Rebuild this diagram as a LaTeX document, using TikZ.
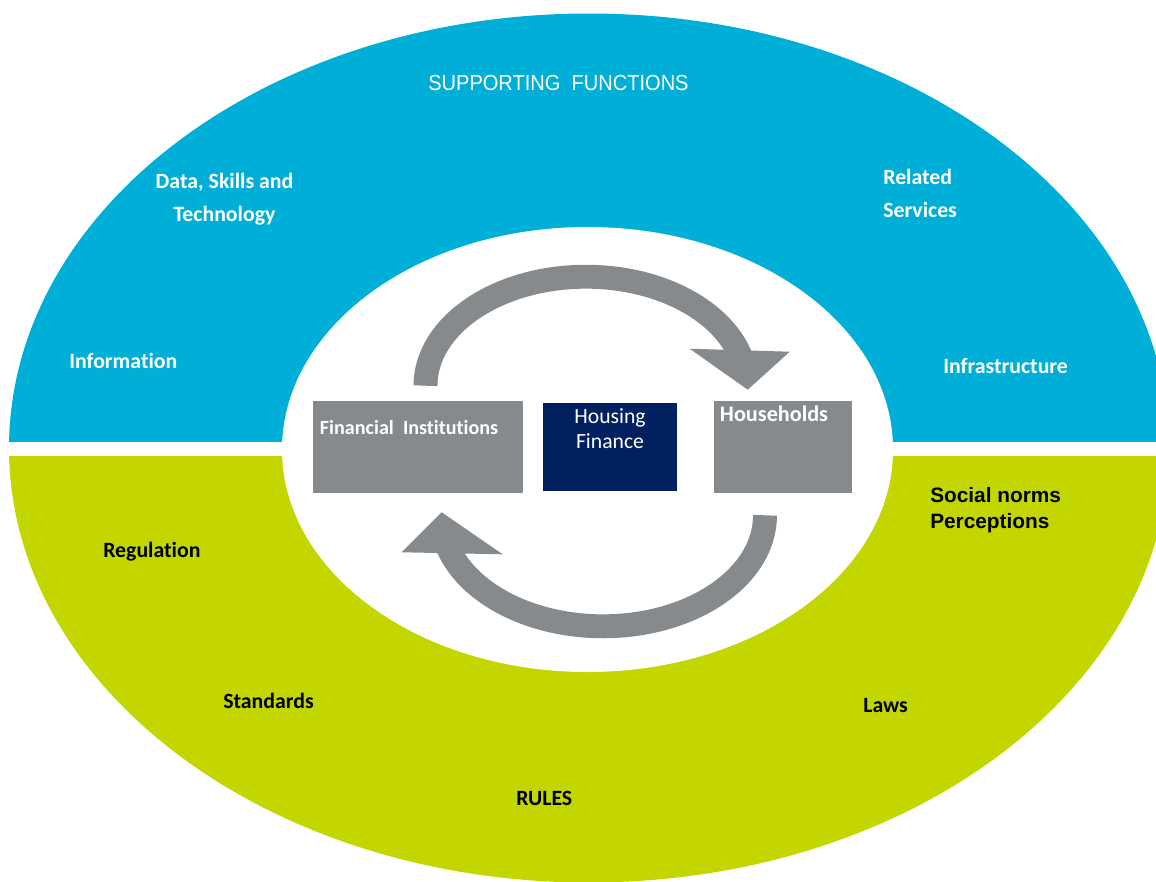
\documentclass[tikz,border=0pt]{standalone}
\usepackage{fontspec}
\setmainfont{Carlito}[Ligatures=NoCommon]
\newfontfamily\arialfont{Liberation Sans}
\newfontfamily\narrowfont[FakeStretch=0.92]{Liberation Sans}
\usetikzlibrary{calc,positioning}
\definecolor{supblue}{RGB}{0,175,215}
\definecolor{rulegreen}{RGB}{196,214,0}
\definecolor{flowgray}{RGB}{135,138,140}
\definecolor{hfnavy}{RGB}{0,32,96}

\begin{document}
\begin{tikzpicture}[x=0.025cm,y=-0.025cm,
    boxstyle/.style={rectangle,fill=flowgray,inner sep=0pt,minimum width=5.25cm,minimum height=2.3cm},
    boxtext/.style={inner sep=0pt,text=white,font=\bfseries\fontsize{14.3}{17}\selectfont},
    labelstyle/.style={inner sep=0pt,anchor=base west,font=\bfseries\fontsize{15.5}{23.4}\selectfont},
    flowstyle/.style={draw=flowgray,line width=17pt}]
    \useasboundingbox (0,0) rectangle (1156,881);
    % outer ring, cut in two halves
    \begin{scope}
        \clip (0,0) rectangle (1156,441);
        \fill[supblue] (589,448) ellipse[x radius=580,y radius=434.5];
    \end{scope}
    \begin{scope}
        \clip (0,456) rectangle (1156,881);
        \fill[rulegreen] (589,448) ellipse[x radius=580,y radius=434.5];
    \end{scope}
    \fill[white] (587.5,449.5) ellipse[x radius=305.5,y radius=222.5];

    \node[inner sep=0pt,anchor=base west,text=white,font=\narrowfont\fontsize{15.5}{18}\selectfont] (supporting) at (428,90.5) {SUPPORTING\ \ FUNCTIONS};
    % base of a two-line node sits on its last line
    \node[labelstyle,text=white,align=center,anchor=base] (data) at (224.5,221) {Data, Skills and\\Technology};
    \node[labelstyle,text=white,align=left] (related) at (883,217) {Related\\Services};
    \foreach \nm/\x/\y/\txt in {info/69/368/Information,infra/943/373/Infrastructure}
        \node[labelstyle,text=white] (\nm) at (\x,\y) {\txt};
    \foreach \nm/\x/\y/\txt in {regulation/103/557/Regulation,standards/223/708/Standards,laws/863/712/Laws,rules/516/805/RULES}
        \node[labelstyle] (\nm) at (\x,\y) {\txt};
    \node[labelstyle,font=\arialfont\bfseries\fontsize{14.8}{18}\selectfont,align=left] (social) at (930,528) {Social norms\\Perceptions};

    % the three boxes
    \node[boxstyle] (fin) at (418,447) {};
    \node[boxstyle,fill=hfnavy,minimum width=3.35cm,minimum height=2.2cm] (hf) at (610,447) {};
    \node[boxstyle,minimum width=3.45cm] (house) at (783,447) {};
    \node[boxtext,anchor=base west] (fintext) at ($(fin.north west)+(7,34)$) {Financial\ \ Institutions};
    \node[boxtext,font=\bfseries\fontsize{15.8}{18}\selectfont,anchor=base west] (housetext) at ($(house.north west)+(6,21)$) {Households};
    \node[boxtext,font=\fontsize{15.4}{17.7}\selectfont,align=center,anchor=base] (hftext) at ($(hf.north)+(0,46)$) {Housing\\Finance};

    % loop arrows between the boxes
    \coordinate (lstart) at ($(fin.north)+(7.5,-15)$);
    \draw[flowstyle] (lstart) arc[start angle=180,end angle=346,x radius=160.5,y radius=109];
    \fill[flowgray] ($(house.north west)+(-24,-52)$) -- ($(house.north west)+(76,-49)$) -- ($(house.north west)+(34,-11)$) -- cycle;
    \coordinate (rstart) at ($(house.south)+(-18,22)$);
    \draw[flowstyle] (rstart) arc[start angle=0,end angle=163,x radius=162,y radius=111];
    \fill[flowgray] ($(fin.south west)+(89,59)$) -- ($(fin.south west)+(190,61)$) -- ($(fin.south west)+(129,19)$) -- cycle;
\end{tikzpicture}
\end{document}
